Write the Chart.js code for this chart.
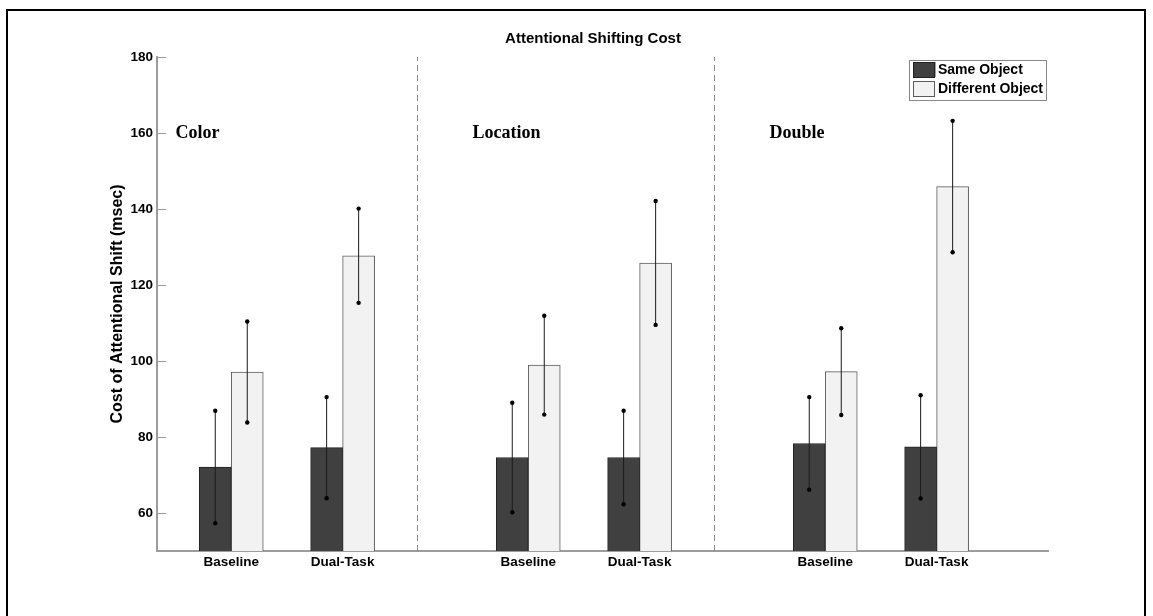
<!DOCTYPE html>
<html>
<head>
<meta charset="utf-8">
<script src="https://cdn.jsdelivr.net/npm/chart.js@4.4.1/dist/chart.umd.min.js"></script>
<style>
  html, body { margin: 0; padding: 0; background: #fff; }
  canvas { display: block; }
</style>
</head>
<body>
<canvas id="chart" width="1153" height="616"></canvas>
<script>
// Attentional shifting cost (msec): mean and error half-width per condition
const groups = ['Color', 'Location', 'Double'];
const conditions = ['Baseline', 'Dual-Task'];
const seriesNames = ['Same Object', 'Different Object'];

// order: Color-Baseline, Color-Dual, Location-Baseline, Location-Dual, Double-Baseline, Double-Dual
const sameObject = [72.1, 77.2, 74.6, 74.6, 78.3, 77.4];
const sameObjectErr = [14.8, 13.3, 14.4, 12.3, 12.2, 13.6];
const differentObject = [97.1, 127.7, 98.9, 125.8, 97.2, 145.9];
const differentObjectErr = [13.3, 12.4, 13.0, 16.3, 11.4, 17.3];

const yTicks = [60, 80, 100, 120, 140, 160, 180];
const yRange = [50, 180];
const groupLabelLevel = 160;

// x layout along a linear axis: groups 8 units apart, conditions 3 units apart
const GROUP_STEP = 8;
const COND_STEP = 3;
const xOf = i => Math.floor(i / conditions.length) * GROUP_STEP + (i % conditions.length) * COND_STEP;
const xPositions = sameObject.map((_, i) => xOf(i));

const FONT = '"Liberation Sans", Arial, Helvetica, sans-serif';
const SERIF = '"Liberation Serif", "Times New Roman", serif';

const errors = [sameObjectErr, differentObjectErr];

// figure frame, title, separators, group names, error bars and legend
const decorations = {
  id: 'decorations',
  beforeDraw(chart) {
    const ctx = chart.ctx;
    ctx.save();
    ctx.fillStyle = '#fff';
    ctx.fillRect(0, 0, chart.width, chart.height);
    ctx.strokeStyle = '#000';
    ctx.lineWidth = 2;
    ctx.beginPath();
    ctx.moveTo(7, chart.height + 5);
    ctx.lineTo(7, 10);
    ctx.lineTo(1145, 10);
    ctx.lineTo(1145, chart.height + 5);
    ctx.stroke();
    ctx.fillStyle = '#000';
    ctx.font = 'bold 15px ' + FONT;
    ctx.textAlign = 'center';
    ctx.textBaseline = 'middle';
    ctx.fillText('Attentional Shifting Cost', 593, 39);
    ctx.restore();
  },
  beforeDatasetsDraw(chart) {
    const {ctx, chartArea, scales: {x, y}} = chart;
    ctx.save();
    // dashed separators between task groups
    ctx.strokeStyle = '#8a8a8a';
    ctx.lineWidth = 1;
    ctx.setLineDash([6, 4]);
    for (let g = 0; g < groups.length - 1; g++) {
      const px = Math.round(x.getPixelForValue(g * GROUP_STEP + 5)) + 0.5;
      ctx.beginPath();
      ctx.moveTo(px, y.getPixelForValue(yRange[0]));
      ctx.lineTo(px, y.getPixelForValue(yRange[1]));
      ctx.stroke();
    }
    ctx.setLineDash([]);
    // inward tick marks on the value axis
    ctx.strokeStyle = '#999';
    ctx.lineWidth = 1;
    yTicks.forEach(v => {
      const py = Math.round(y.getPixelForValue(v)) + 0.5;
      ctx.beginPath();
      ctx.moveTo(chartArea.left, py);
      ctx.lineTo(chartArea.left + 9, py);
      ctx.stroke();
    });
    // group names
    ctx.fillStyle = '#000';
    ctx.font = 'bold 18px ' + SERIF;
    ctx.textAlign = 'left';
    ctx.textBaseline = 'middle';
    groups.forEach((name, g) => {
      ctx.fillText(name, x.getPixelForValue(g * GROUP_STEP - 1.5), y.getPixelForValue(groupLabelLevel));
    });
    ctx.restore();
  },
  afterDatasetsDraw(chart) {
    const {ctx, scales: {y}} = chart;
    ctx.save();
    chart.data.datasets.forEach((ds, d) => {
      const meta = chart.getDatasetMeta(d);
      meta.data.forEach((bar, i) => {
        const mean = ds.data[i].y;
        const err = errors[d][i];
        const yHi = y.getPixelForValue(mean + err);
        const yLo = y.getPixelForValue(mean - err);
        ctx.strokeStyle = '#1a1a1a';
        ctx.lineWidth = 1;
        ctx.beginPath();
        ctx.moveTo(bar.x, yHi);
        ctx.lineTo(bar.x, yLo);
        ctx.stroke();
        ctx.fillStyle = '#000';
        [yHi, yLo].forEach(py => {
          ctx.beginPath();
          ctx.arc(bar.x, py, 2.2, 0, Math.PI * 2);
          ctx.fill();
        });
      });
    });
    ctx.restore();
  },
  afterDraw(chart) {
    const {ctx, chartArea} = chart;
    ctx.save();
    ctx.font = 'bold 14px ' + FONT;
    const textW = Math.max(...seriesNames.map(n => ctx.measureText(n).width));
    const boxW = 29 + textW + 3;
    const boxH = 40;
    const bx = chartArea.right - 2 - boxW;
    const by = chartArea.top + 2.5;
    ctx.fillStyle = '#fff';
    ctx.fillRect(bx, by, boxW, boxH);
    ctx.strokeStyle = '#888';
    ctx.lineWidth = 1;
    ctx.strokeRect(Math.round(bx) + 0.5, Math.round(by) + 0.5, Math.round(boxW), boxH);
    chart.data.datasets.forEach((ds, d) => {
      const sy = by + 2.5 + d * 19;
      ctx.fillStyle = ds.backgroundColor;
      ctx.fillRect(bx + 4.5, sy, 22, 15);
      ctx.strokeStyle = ds.borderColor;
      ctx.strokeRect(Math.round(bx + 4.5) + 0.5, Math.round(sy) + 0.5, 21, 15);
      ctx.fillStyle = '#000';
      ctx.textAlign = 'left';
      ctx.textBaseline = 'middle';
      ctx.fillText(ds.label, bx + 29, sy + 8);
    });
    ctx.restore();
  }
};

new Chart(document.getElementById('chart'), {
  type: 'bar',
  data: {
    datasets: [
      {
        label: seriesNames[0],
        data: sameObject.map((v, i) => ({x: xPositions[i], y: v})),
        backgroundColor: '#404040',
        borderColor: '#222',
        borderWidth: 1,
        barThickness: 32
      },
      {
        label: seriesNames[1],
        data: differentObject.map((v, i) => ({x: xPositions[i], y: v})),
        backgroundColor: '#f2f2f2',
        borderColor: '#5c5c5c',
        borderWidth: 1,
        barThickness: 32
      }
    ]
  },
  options: {
    responsive: false,
    animation: false,
    devicePixelRatio: 1,
    layout: { padding: { left: 108, top: 57, right: 105, bottom: 0 } },
    plugins: {
      legend: { display: false },
      title: { display: false },
      tooltip: { enabled: false }
    },
    scales: {
      x: {
        type: 'linear',
        offset: false,
        min: -2,
        max: 22,
        afterBuildTicks: s => { s.ticks = xPositions.map(v => ({value: v})); },
        afterFit: s => { s.height = 65; },
        grid: { display: true, drawOnChartArea: false, drawTicks: false, offset: false },
        border: { display: true, color: '#9c9c9c', width: 2 },
        ticks: {
          autoSkip: false,
          maxRotation: 0,
          padding: 3,
          color: '#000',
          font: { family: FONT, size: 13.5, weight: 'bold' },
          callback: (value, index) => conditions[index % conditions.length]
        }
      },
      y: {
        type: 'linear',
        min: yRange[0],
        max: yRange[1],
        afterBuildTicks: s => { s.ticks = yTicks.map(v => ({value: v})); },
        afterFit: s => { s.width = 49; },
        grid: { display: true, drawOnChartArea: false, drawTicks: false },
        border: { display: true, color: '#9c9c9c', width: 2 },
        ticks: {
          padding: 4,
          color: '#000',
          font: { family: FONT, size: 13.5, weight: 'bold' }
        },
        title: {
          display: true,
          text: 'Cost of Attentional Shift (msec)',
          color: '#000',
          padding: { top: 0, bottom: 0 },
          font: { family: FONT, size: 16, weight: 'bold' }
        }
      }
    }
  },
  plugins: [decorations]
});
</script>
</body>
</html>
